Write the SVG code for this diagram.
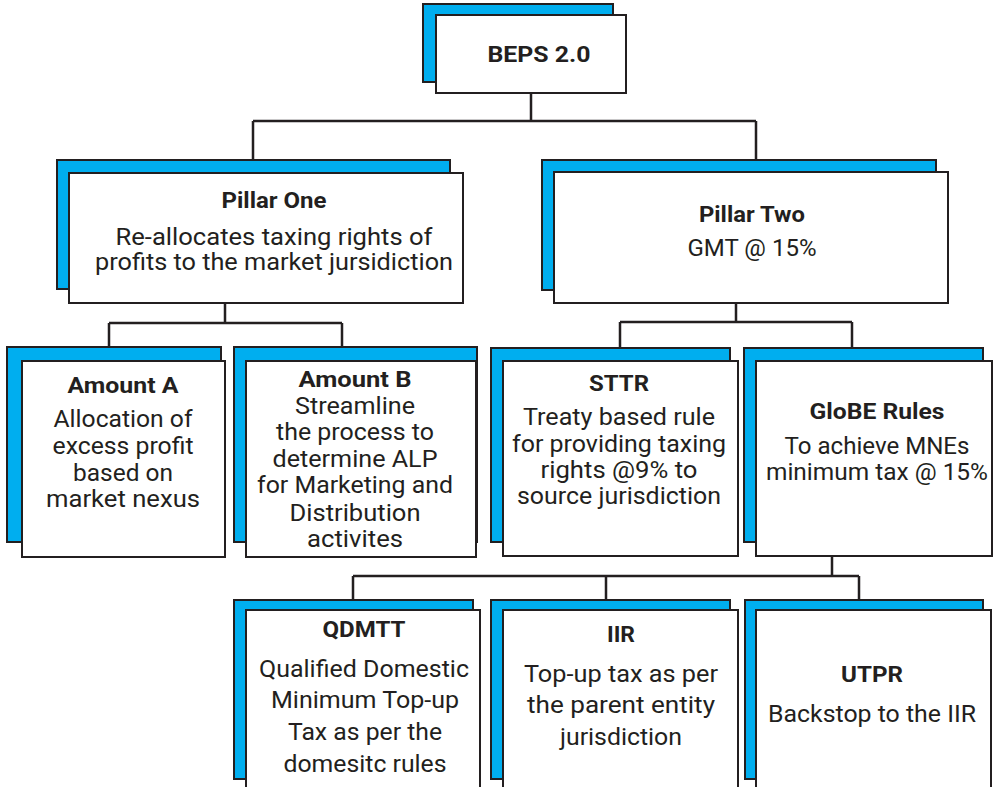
<svg xmlns="http://www.w3.org/2000/svg" width="998" height="787" viewBox="0 0 998 787">
  <style>
    .back { fill: #00AEEF; stroke: #231F20; stroke-width: 2; }
    .front { fill: #FFFFFF; stroke: #231F20; stroke-width: 2; }
    .wire { fill: none; stroke: #231F20; stroke-width: 2.5; }
    text { fill: #231F20; font-family: Roboto, "Liberation Sans", sans-serif; text-anchor: middle; }
    .title { font-weight: bold; font-size: 22px; }
    .body { font-size: 23px; }
    .cond { font-size: 24px; }
  </style>

  <!-- connectors -->
  <g id="connectors" class="wire">
    <path d="M531 93 V121 M253 121 H756 M253 121 V160 M756 121 V160"/>
    <path d="M225 303 V323 M109 323 H342 M109 323 V347 M342 323 V347"/>
    <path d="M736 303 V322 M620 322 H852 M620 322 V348 M852 322 V348"/>
    <path d="M832 556 V576 M353 576 H859 M353 576 V600 M606 576 V600 M859 576 V600"/>
  </g>

  <g id="beps">
    <rect class="back" x="423" y="4" width="190" height="78"/>
    <rect class="front" x="436" y="15" width="190" height="78"/>
    <text class="title" x="539" y="62" font-size="24" textLength="103" lengthAdjust="spacingAndGlyphs">BEPS 2.0</text>
  </g>

  <g id="pillar-one">
    <rect class="back" x="57" y="160" width="393" height="129"/>
    <rect class="front" x="69" y="173" width="394" height="130"/>
    <text class="title" x="274" y="208" textLength="105" lengthAdjust="spacingAndGlyphs">Pillar One</text>
    <text class="body" x="274" y="245" textLength="317" lengthAdjust="spacingAndGlyphs">Re-allocates taxing rights of</text>
    <text class="body" x="274" y="270" textLength="358" lengthAdjust="spacingAndGlyphs">profits to the market jursidiction</text>
  </g>

  <g id="pillar-two">
    <rect class="back" x="542" y="160" width="394" height="130"/>
    <rect class="front" x="554" y="172" width="394" height="131"/>
    <text class="title" x="752" y="222" textLength="106" lengthAdjust="spacingAndGlyphs">Pillar Two</text>
    <text class="body" x="752" y="256" textLength="129" lengthAdjust="spacingAndGlyphs">GMT @ 15%</text>
  </g>

  <g id="amount-a">
    <rect class="back" x="7" y="347" width="214" height="195"/>
    <rect class="front" x="22" y="361" width="203" height="196"/>
    <text class="title" x="123" y="393" textLength="111" lengthAdjust="spacingAndGlyphs">Amount A</text>
    <text class="body" x="123" y="427" textLength="139" lengthAdjust="spacingAndGlyphs">Allocation of</text>
    <text class="body" x="123" y="454" textLength="141" lengthAdjust="spacingAndGlyphs">excess profit</text>
    <text class="body" x="123" y="481" textLength="100" lengthAdjust="spacingAndGlyphs">based on</text>
    <text class="body" x="123" y="507" textLength="154" lengthAdjust="spacingAndGlyphs">market nexus</text>
  </g>

  <g id="amount-b">
    <rect class="back" x="234" y="347" width="243" height="195"/>
    <rect class="front" x="246" y="361" width="230" height="196"/>
    <text class="title" x="355" y="387" textLength="113" lengthAdjust="spacingAndGlyphs">Amount B</text>
    <text class="body" x="355" y="414" textLength="120" lengthAdjust="spacingAndGlyphs">Streamline</text>
    <text class="body" x="355" y="440" textLength="158" lengthAdjust="spacingAndGlyphs">the process to</text>
    <text class="body" x="355" y="467" textLength="165" lengthAdjust="spacingAndGlyphs">determine ALP</text>
    <text class="body" x="355" y="493" textLength="196" lengthAdjust="spacingAndGlyphs">for Marketing and</text>
    <text class="body" x="355" y="521" textLength="131" lengthAdjust="spacingAndGlyphs">Distribution</text>
    <text class="body" x="355" y="547" textLength="96" lengthAdjust="spacingAndGlyphs">activites</text>
  </g>

  <g id="sttr">
    <rect class="back" x="491" y="348" width="239" height="194"/>
    <rect class="front" x="503" y="361" width="235" height="195"/>
    <text class="title" x="619" y="391" textLength="60" lengthAdjust="spacingAndGlyphs">STTR</text>
    <text class="body" x="619" y="425" textLength="192" lengthAdjust="spacingAndGlyphs">Treaty based rule</text>
    <text class="body" x="619" y="452" textLength="214" lengthAdjust="spacingAndGlyphs">for providing taxing</text>
    <text class="body" x="619" y="478" textLength="157" lengthAdjust="spacingAndGlyphs">rights @9% to</text>
    <text class="body" x="619" y="504" textLength="204" lengthAdjust="spacingAndGlyphs">source jurisdiction</text>
  </g>

  <g id="globe-rules">
    <rect class="back" x="744" y="348" width="239" height="194"/>
    <rect class="front" x="756" y="361" width="236" height="195"/>
    <text class="title" x="877" y="419" textLength="135" lengthAdjust="spacingAndGlyphs">GloBE Rules</text>
    <text class="body" x="877" y="454" textLength="185" lengthAdjust="spacingAndGlyphs">To achieve MNEs</text>
    <text class="body" x="877" y="480" textLength="222" lengthAdjust="spacingAndGlyphs">minimum tax @ 15%</text>
  </g>

  <g id="qdmtt">
    <rect class="back" x="234" y="600" width="239" height="179"/>
    <rect class="front" x="246" y="610" width="234" height="185"/>
    <text class="title" x="364" y="637" textLength="83" lengthAdjust="spacingAndGlyphs">QDMTT</text>
    <text class="cond" x="364" y="677" textLength="210" lengthAdjust="spacingAndGlyphs">Qualified Domestic</text>
    <text class="cond" x="365" y="708" textLength="188" lengthAdjust="spacingAndGlyphs">Minimum Top-up</text>
    <text class="cond" x="365" y="740" textLength="154" lengthAdjust="spacingAndGlyphs">Tax as per the</text>
    <text class="cond" x="365" y="772" textLength="163" lengthAdjust="spacingAndGlyphs">domesitc rules</text>
  </g>

  <g id="iir">
    <rect class="back" x="491" y="600" width="239" height="179"/>
    <rect class="front" x="503" y="610" width="235" height="185"/>
    <text class="title" x="621" y="642" textLength="28" lengthAdjust="spacingAndGlyphs">IIR</text>
    <text class="cond" x="621" y="682" textLength="194" lengthAdjust="spacingAndGlyphs">Top-up tax as per</text>
    <text class="cond" x="621" y="713" textLength="188" lengthAdjust="spacingAndGlyphs">the parent entity</text>
    <text class="cond" x="621" y="745" textLength="122" lengthAdjust="spacingAndGlyphs">jurisdiction</text>
  </g>

  <g id="utpr">
    <rect class="back" x="745" y="600" width="238" height="179"/>
    <rect class="front" x="756" y="610" width="235" height="185"/>
    <text class="title" x="872" y="682" textLength="62" lengthAdjust="spacingAndGlyphs">UTPR</text>
    <text class="cond" x="872" y="722" textLength="208" lengthAdjust="spacingAndGlyphs">Backstop to the IIR</text>
  </g>
</svg>
